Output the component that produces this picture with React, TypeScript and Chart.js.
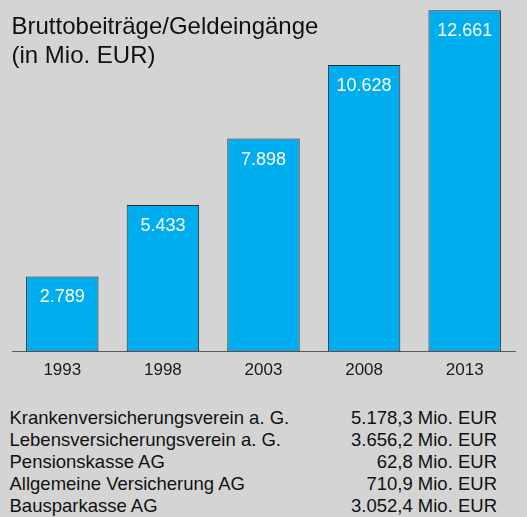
import React, { useEffect, useRef } from "react";
import { Chart, registerables } from "chart.js";

Chart.register(...registerables);

const years = ["1993", "1998", "2003", "2008", "2013"];
const grossContributions = [2789, 5433, 7898, 10628, 12661];
const companyNames = [
  "Krankenversicherungsverein a. G.",
  "Lebensversicherungsverein a. G.",
  "Pensionskasse AG",
  "Allgemeine Versicherung AG",
  "Bausparkasse AG",
];
const companyAmounts = [
  "5.178,3 Mio. EUR",
  "3.656,2 Mio. EUR",
  "62,8 Mio. EUR",
  "710,9 Mio. EUR",
  "3.052,4 Mio. EUR",
];
const titleLines = ["Bruttobeiträge/Geldeingänge", "(in Mio. EUR)"];

const FONT = "'Liberation Sans', Arial, Helvetica, sans-serif";
const BG = "#d4d4d4";

function fmtDe(v: number): string {
  const s = Math.round(v).toString();
  return s.replace(/\B(?=(\d{3})+(?!\d))/g, ".");
}

const valueLabelPlugin = {
  id: "valueLabels",
  afterDatasetsDraw(chart: any) {
    const ctx = chart.ctx;
    const meta = chart.getDatasetMeta(0);
    ctx.save();
    ctx.fillStyle = "#ffffff";
    ctx.font = `18px ${FONT}`;
    ctx.textAlign = "center";
    ctx.textBaseline = "middle";
    meta.data.forEach((bar: any, i: number) => {
      const v = chart.data.datasets[0].data[i] as number;
      ctx.fillText(fmtDe(v), bar.x, bar.y + 21);
    });
    ctx.restore();
  },
};

export default function App() {
  const ref = useRef<HTMLCanvasElement>(null);

  useEffect(() => {
    if (!ref.current) return;
    const chart = new Chart(ref.current, {
      type: "bar",
      data: {
        labels: years,
        datasets: [
          {
            data: grossContributions,
            backgroundColor: "#00adef",
            borderColor: "#2b2b2b",
            borderWidth: 1,
            borderSkipped: false,
            barPercentage: 0.72,
            categoryPercentage: 1,
          },
        ],
      },
      options: {
        animation: false,
        responsive: false,
        maintainAspectRatio: false,
        layout: { padding: { left: 12, right: 12, top: 1, bottom: 0 } },
        plugins: {
          legend: { display: false },
          tooltip: { enabled: false },
          title: { display: false },
        },
        scales: {
          x: {
            grid: { display: false, drawTicks: false },
            border: { display: true, color: "#5a5a5a", width: 1 },
            ticks: {
              color: "#1a1a1a",
              font: { family: FONT, size: 17 },
              padding: 9,
            },
          },
          y: {
            display: false,
            min: 0,
            max: 13000,
          },
        },
      },
      plugins: [valueLabelPlugin],
    });
    return () => chart.destroy();
  }, []);

  return (
    <div
      style={{
        position: "absolute",
        left: 0,
        top: 0,
        width: 527,
        height: 517,
        background: BG,
        overflow: "hidden",
        fontFamily: FONT,
        color: "#111",
      }}
    >
      <canvas
        ref={ref}
        width={527}
        height={390}
        style={{ position: "absolute", left: 0, top: 0, width: 527, height: 390 }}
      />
      <div
        style={{
          position: "absolute",
          left: 11.5,
          top: 10.5,
          fontSize: 24,
          lineHeight: "29.5px",
          whiteSpace: "nowrap",
        }}
      >
        {titleLines.map((t, i) => (
          <div key={i}>{t}</div>
        ))}
      </div>
      <div
        style={{
          position: "absolute",
          left: 9.5,
          right: 30,
          top: 406.6,
          fontSize: 18.5,
          lineHeight: "22px",
        }}
      >
        {companyNames.map((n, i) => (
          <div key={i} style={{ display: "flex", justifyContent: "space-between", whiteSpace: "nowrap" }}>
            <span>{n}</span>
            <span>{companyAmounts[i]}</span>
          </div>
        ))}
      </div>
    </div>
  );
}
